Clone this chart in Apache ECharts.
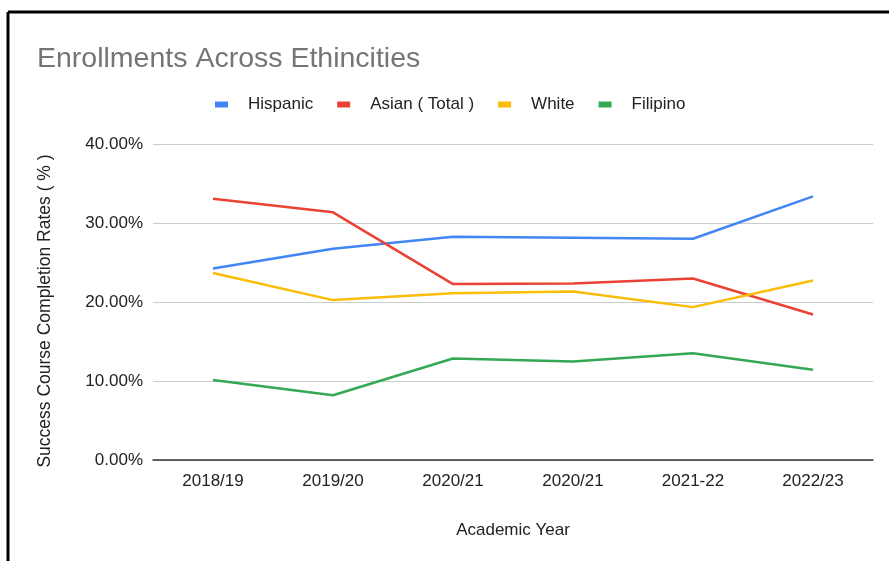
<!DOCTYPE html>
<html>
<head>
<meta charset="utf-8">
<script src="https://cdn.jsdelivr.net/npm/echarts@6/dist/echarts.min.js"></script>
<style>
html,body{margin:0;padding:0;background:#fff;}
#chart{width:889px;height:561px;}
</style>
</head>
<body>
<div id="chart"></div>
<script>
const categories = ['2018/19', '2019/20', '2020/21', '2020/21', '2021-22', '2022/23'];
const hispanic = [24.25, 26.74, 28.26, 28.14, 28.0, 33.37];
const asian = [33.08, 31.35, 22.27, 22.35, 22.98, 18.42];
const white = [23.66, 20.24, 21.12, 21.33, 19.35, 22.73];
const filipino = [10.14, 8.2, 12.84, 12.46, 13.52, 11.41];
const seriesNames = ['Hispanic', 'Asian ( Total )', 'White', 'Filipino'];
const yTicks = [0, 10, 20, 30, 40];

const colors = ['#4285F4', '#EA4335', '#FBBC04', '#34A853'];
const font = 'Arial, "Liberation Sans", sans-serif';
const chart = echarts.init(document.getElementById('chart'), null, {renderer: 'canvas'});
const mk = (name, data, c) => ({
  name, type: 'line', data, showSymbol: false, symbol: 'none',
  lineStyle: {width: 2.5, color: c}, itemStyle: {color: c}, z: 3
});
chart.setOption({
  animation: false,
  color: colors,
  title: {
    text: 'Enrollments Across Ethincities',
    left: 37, top: 45, padding: 0,
    textStyle: {fontFamily: font, fontSize: 28.5, fontWeight: 'normal', color: '#757575'}
  },
  legend: {
    left: 215, top: 96, padding: 0,
    icon: 'rect', itemWidth: 13, itemHeight: 6, itemGap: 24,
    textStyle: {fontFamily: font, fontSize: 17, color: '#222', padding: [0, 0, 0, 15]},
    data: seriesNames
  },
  graphic: [
    {type: 'line', shape: {x1: 8, y1: 12, x2: 889, y2: 12}, style: {stroke: '#000', lineWidth: 3}, silent: true},
    {type: 'line', shape: {x1: 8, y1: 12, x2: 8, y2: 561}, style: {stroke: '#000', lineWidth: 3}, silent: true}
  ],
  grid: {left: 153, right: 16, top: 144, bottom: 101, containLabel: false},
  xAxis: {
    type: 'category', data: categories, boundaryGap: true,
    name: 'Academic Year', nameLocation: 'middle', nameGap: 62,
    nameTextStyle: {fontFamily: font, fontSize: 17, color: '#222'},
    axisTick: {show: false},
    axisLine: {lineStyle: {color: '#333', width: 1.5}},
    axisLabel: {fontFamily: font, fontSize: 17, color: '#222', margin: 13}
  },
  yAxis: {
    type: 'value', min: yTicks[0], max: yTicks[yTicks.length - 1], interval: 10,
    name: 'Success Course Completion Rates ( % )', nameLocation: 'middle', nameGap: 99,
    nameTextStyle: {fontFamily: font, fontSize: 17.5, color: '#222', padding: [0, 18, 0, 0]},
    axisLine: {show: false}, axisTick: {show: false},
    splitLine: {lineStyle: {color: '#cccccc', width: 1}},
    axisLabel: {fontFamily: font, fontSize: 17, color: '#222', margin: 10,
      formatter: v => v.toFixed(2) + '%'}
  },
  series: [
    mk(seriesNames[0], hispanic, colors[0]),
    mk(seriesNames[1], asian, colors[1]),
    mk(seriesNames[2], white, colors[2]),
    mk(seriesNames[3], filipino, colors[3])
  ]
});
</script>
</body>
</html>
